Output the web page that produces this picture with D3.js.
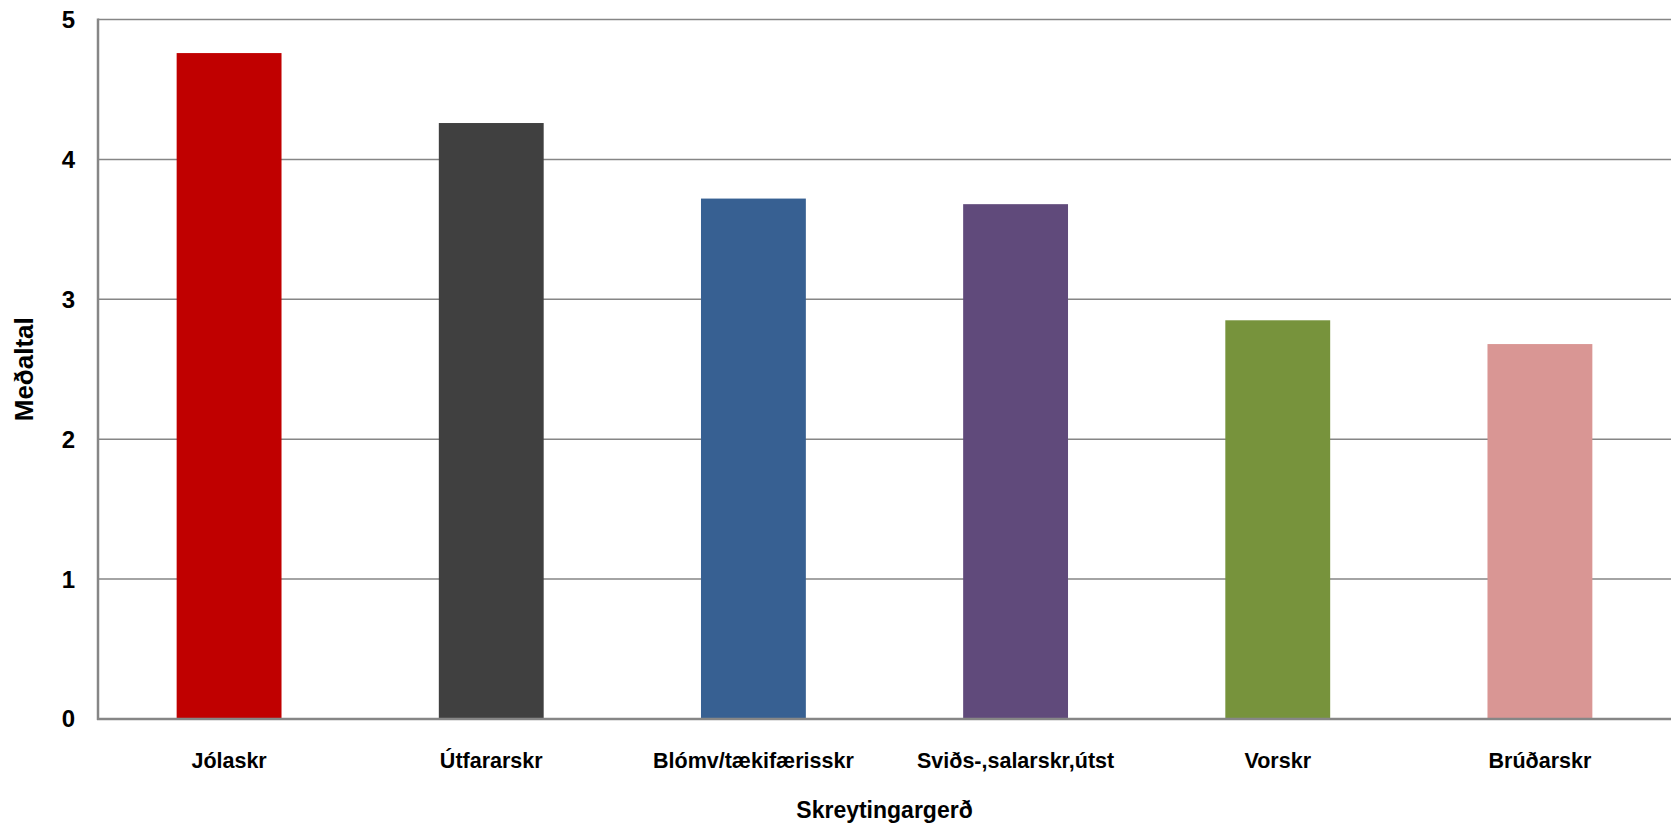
<!DOCTYPE html>
<html><head><meta charset="utf-8">
<script src="https://cdn.jsdelivr.net/npm/d3@7"></script>
<style>body{margin:0;background:#fff}svg{display:block}</style>
</head><body>
<svg id="chart" width="1671" height="826"></svg>
<script>
const categories = ["Jólaskr","Útfararskr","Blómv/tækifærisskr","Sviðs-,salarskr,útst","Vorskr","Brúðarskr"];
const values = [4.76, 4.26, 3.72, 3.68, 2.85, 2.68];
const colors = ["#C00000","#404040","#376092","#604A7B","#77933C","#D99694"];
const yTicks = [0,1,2,3,4,5];
const yTitle = "Meðaltal";
const xTitle = "Skreytingargerð";

const W = 1671, H = 826;
const m = {left: 98, right: 0, top: 19.5, bottom: 107};
const svg = d3.select("#chart");
const font = "'Liberation Sans', Arial, sans-serif";

const x = d3.scaleBand().domain(categories).range([m.left, W - m.right]).paddingInner(0.6).paddingOuter(0.3);
const y = d3.scaleLinear().domain([0,5]).range([H - m.bottom, m.top]);

// gridlines
svg.append("g").selectAll("line").data(yTicks.filter(d => d > 0)).join("line")
  .attr("x1", m.left).attr("x2", W).attr("y1", d => y(d)).attr("y2", d => y(d))
  .attr("stroke", "#868686").attr("stroke-width", 1.5);

// bars
svg.append("g").selectAll("rect").data(categories).join("rect")
  .attr("x", d => x(d)).attr("width", x.bandwidth())
  .attr("y", (d,i) => y(values[i])).attr("height", (d,i) => y(0) - y(values[i]))
  .attr("fill", (d,i) => colors[i]);

// axes lines
svg.append("line").attr("x1", m.left).attr("x2", m.left).attr("y1", m.top - 1).attr("y2", y(0) + 1)
  .attr("stroke", "#868686").attr("stroke-width", 2.5);
svg.append("line").attr("x1", m.left - 1).attr("x2", W).attr("y1", y(0)).attr("y2", y(0))
  .attr("stroke", "#868686").attr("stroke-width", 2.5);

// y tick labels
svg.append("g").selectAll("text").data(yTicks).join("text")
  .attr("x", 75).attr("y", d => y(d)).attr("dy", "0.35em")
  .attr("text-anchor", "end").attr("font-family", font).attr("font-weight", "bold")
  .attr("font-size", 24).attr("fill", "#000").text(d => d);

// x tick labels
svg.append("g").selectAll("text").data(categories).join("text")
  .attr("x", d => x(d) + x.bandwidth()/2).attr("y", 760).attr("dy", "0.35em")
  .attr("text-anchor", "middle").attr("font-family", font).attr("font-weight", "bold")
  .attr("font-size", 21.5).attr("fill", "#000").text(d => d);

// titles
svg.append("text").attr("transform", `translate(24,${(y(0)+y(5))/2}) rotate(-90)`)
  .attr("dy", "0.35em").attr("text-anchor", "middle").attr("font-family", font)
  .attr("font-weight", "bold").attr("font-size", 26).text(yTitle);
svg.append("text").attr("x", (m.left + W - m.right)/2).attr("y", 810).attr("dy", "0.35em")
  .attr("text-anchor", "middle").attr("font-family", font)
  .attr("font-weight", "bold").attr("font-size", 23).text(xTitle);
</script>
</body></html>
